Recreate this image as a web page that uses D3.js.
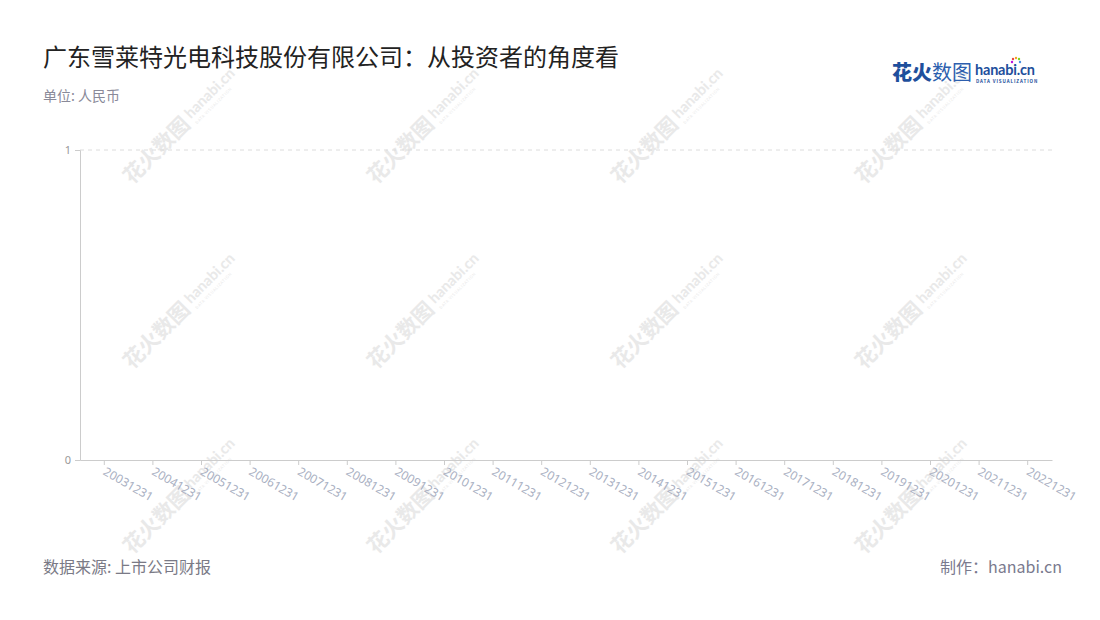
<!DOCTYPE html>
<html><head><meta charset="utf-8">
<script src="https://cdn.jsdelivr.net/npm/d3@7"></script>
<style>body{margin:0;background:#fff;}svg{display:block;font-family:"Noto Sans CJK SC","Noto Sans",sans-serif;}</style>
</head><body>
<svg id="c" width="1100" height="620"></svg>
<script>
const categories = ["20031231","20041231","20051231","20061231","20071231","20081231","20091231","20101231","20111231","20121231","20131231","20141231","20151231","20161231","20171231","20181231","20191231","20201231","20211231","20221231"];
const seriesValues = []; // no data shown in the reference
const yTicks = [0, 1];
const titleText = "广东雪莱特光电科技股份有限公司：从投资者的角度看";
const unitText = "单位: 人民币";
const sourceText = "数据来源: 上市公司财报";
const makerText = "制作：hanabi.cn";

const svg = d3.select("#c");
const W = 1100, H = 620;
const m = {left:80, right:48, top:150, bottom:160};

// watermarks
const wmX = [132, 376, 620, 864], wmY = [185, 370, 555];
const wm = svg.append("g").attr("class","wm");
wmY.forEach(y => wmX.forEach(x => {
  const g = wm.append("g").attr("transform",`translate(${x},${y}) rotate(-45)`);
  g.append("text").attr("x",0).attr("y",0).attr("font-size",21).attr("font-weight",700).attr("fill","#e9e9e9").text("花火数图");
  g.append("text").attr("x",88).attr("y",-5).attr("font-size",15).attr("font-weight",700).attr("fill","#e9e9e9").attr("font-family","Lato, sans-serif").text("hanabi.cn");
  g.append("text").attr("x",89).attr("y",3).attr("font-size",4).attr("fill","#e9e9e9").attr("letter-spacing",0.6).text("DATA VISUALIZATION");
}));

const x = d3.scaleBand().domain(categories).range([m.left, W - m.right]);
const y = d3.scaleLinear().domain([0, 1]).range([H - m.bottom, m.top]);

// grid
svg.append("g").selectAll("line").data(yTicks.filter(t => t !== 0)).join("line")
  .attr("x1", m.left).attr("x2", W - m.right)
  .attr("y1", d => y(d)).attr("y2", d => y(d))
  .attr("stroke","#dcdcdc").attr("stroke-dasharray","4,4");

// y axis
const ya = svg.append("g").attr("transform",`translate(${m.left},0)`)
  .call(d3.axisLeft(y).tickValues(yTicks).tickFormat(d3.format("d")).tickSize(5).tickPadding(4));
ya.select(".domain").attr("stroke","#cccccc");
ya.selectAll(".tick line").attr("stroke","#cccccc");
ya.selectAll(".tick text").attr("fill","#999").attr("font-size",11).attr("font-family","Noto Sans, sans-serif");

// x axis
const xa = svg.append("g").attr("transform",`translate(0,${H - m.bottom})`)
  .call(d3.axisBottom(x).tickSize(5).tickSizeOuter(0));
xa.select(".domain").attr("stroke","#cccccc");
xa.selectAll(".tick line").attr("stroke","#cccccc");
xa.selectAll(".tick text")
  .attr("fill","#a9b0c2").attr("font-size",12).attr("font-family","Noto Sans, sans-serif")
  .attr("text-anchor","start").attr("dy",0).attr("y",0)
  .attr("transform","translate(-2,14) rotate(30)");

// bars (none in data)
svg.append("g").selectAll("rect").data(seriesValues).join("rect")
  .attr("x",(d,i)=>x(categories[i])).attr("width",x.bandwidth())
  .attr("y",d=>y(d)).attr("height",d=>y(0)-y(d)).attr("fill","#5470c6");

// titles
svg.append("text").attr("x",43).attr("y",66).attr("font-size",24).attr("fill","#222").text(titleText);
svg.append("text").attr("x",43).attr("y",101).attr("font-size",14).attr("fill","#8a8a99").text(unitText);
svg.append("text").attr("x",43).attr("y",573).attr("font-size",16).attr("fill","#7a7a86").text(sourceText);
svg.append("text").attr("x",1062).attr("y",573).attr("text-anchor","end").attr("font-size",16).attr("fill","#7a7a8e").text(makerText);

// logo
const lg = svg.append("g");
lg.append("text").attr("x",892).attr("y",80).attr("font-size",20).attr("font-weight",900).attr("fill","#1e4f9c").text("花火");
lg.append("text").attr("x",932).attr("y",80).attr("font-size",20).attr("font-weight",400).attr("fill","#2d5fae").text("数图");
lg.append("text").attr("x",975).attr("y",75).attr("font-size",14.5).attr("font-weight",700).attr("fill","#1e4f9c").attr("font-family","Lato, sans-serif").attr("letter-spacing",-0.2).text("hanabi.cn");
lg.append("text").attr("x",976).attr("y",83).attr("font-size",4.5).attr("font-weight",700).attr("fill","#1e4f9c").attr("letter-spacing",0.9).text("DATA VISUALIZATION");
const sp = [["#e8483f",-3,-4],["#f5a623",0,-5],["#7ed321",3,-4],["#4a90e2",4,-1],["#bd10e0",-4,-1]];
lg.selectAll("circle").data(sp).join("circle")
  .attr("cx",d=>1016+d[1]).attr("cy",d=>63+d[2]).attr("r",1.2).attr("fill",d=>d[0]);
</script>
</body></html>
